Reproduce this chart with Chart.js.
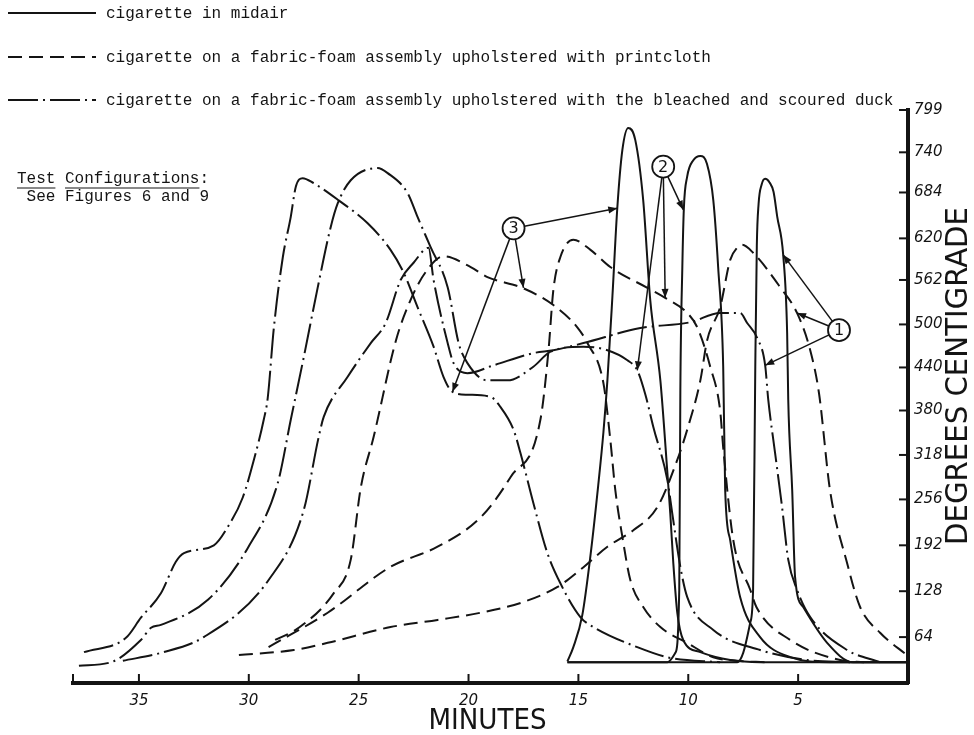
<!DOCTYPE html>
<html>
<head>
<meta charset="utf-8">
<script src="https://cdn.jsdelivr.net/npm/chart.js@4.4.1/dist/chart.umd.min.js"></script>
<style>
  html, body { margin: 0; padding: 0; background: #fff; }
</style>
</head>
<body>
<canvas id="myChart" width="974" height="735"></canvas>
<script>
// tick labels ----------------------------------------------------------
const xTicks = [35, 30, 25, 20, 15, 10, 5];
const yTicks = [64, 128, 192, 256, 318, 380, 440, 500, 562, 620, 684, 740, 799];

const legendLabels = [
  'cigarette in midair',
  'cigarette on a fabric-foam assembly upholstered with printcloth',
  'cigarette on a fabric-foam assembly upholstered with the bleached and scoured duck'
];

// curves, [minutes, degrees C] ------------------------------------------
// cigarette in midair (solid)
const midair1 = [[15.5, 29], [7.77, 29], [7.5, 42], [7.18, 84], [7.05, 130], [6.95, 441], [6.88, 610], [6.8, 668], [6.66, 695], [6.5, 703], [6.3, 698], [6.12, 685], [5.95, 650], [5.68, 597], [5.5, 488], [5.45, 395], [5.27, 269], [5.14, 148], [4.77, 106], [3.68, 56], [2.5, 29], [0, 29]];
const midair2 = [[15.5, 29], [10.95, 29], [10.59, 42], [10.41, 130], [10.36, 409], [10.27, 580], [10.2, 662], [10.05, 706], [9.77, 729], [9.45, 735], [9.15, 724], [8.86, 673], [8.64, 580], [8.41, 441], [8.32, 269], [8.09, 199], [7.64, 120], [6.73, 64], [5.36, 36], [3.55, 29], [0, 29]];
const midair3 = [[15.5, 30], [15.23, 50], [14.82, 95], [14.45, 178], [14.1, 275], [13.86, 350], [13.68, 422], [13.45, 540], [13.23, 662], [13.0, 743], [12.73, 774], [12.41, 757], [12.05, 673], [11.73, 534], [11.27, 422], [10.95, 293], [10.82, 237], [10.68, 167], [10.5, 98], [10.23, 60], [9.45, 43], [8.09, 32], [6.73, 29], [0, 29]];

// printcloth (dashed)
const print1 = [[30.45, 39], [27.95, 46], [26.41, 56], [23.55, 78], [21.41, 88], [19.45, 98], [17.5, 113], [15.95, 134], [14.91, 158], [13.68, 190], [12.5, 213], [11.41, 245], [10.5, 311], [10.05, 353], [9.45, 422], [9.14, 478], [8.55, 524], [8.09, 590], [7.77, 607], [7.55, 611], [7.05, 600], [5.82, 552], [5.05, 516], [4.45, 464], [4.05, 404], [3.55, 269], [2.77, 167], [2.18, 106], [1.27, 70], [0.05, 39]];
const print2 = [[29.1, 50], [26.41, 98], [23.55, 162], [21.41, 190], [19.45, 231], [18.09, 287], [16.73, 367], [16.36, 464], [16.14, 548], [15.82, 594], [15.23, 618], [14.45, 604], [13.55, 580], [11.86, 551], [11.05, 537], [10.05, 516], [9.59, 496], [9.0, 441], [8.55, 380], [8.4, 325], [7.95, 199], [7.18, 130], [6.9, 106], [5.36, 60], [3.09, 32], [2.0, 29]];
const print3 = [[28.8, 60], [27.73, 77], [26.14, 125], [25.36, 172], [24.9, 273], [24.32, 343], [23.3, 478], [22.64, 534], [21.95, 573], [21.14, 595], [19.9, 580], [19.14, 566], [17.55, 551], [16.14, 527], [15.05, 496], [14.59, 474], [13.86, 418], [13.55, 340], [13.32, 269], [13.0, 204], [12.64, 144], [12.05, 106], [11.27, 78], [10.05, 56], [8.86, 36], [7.77, 31], [6.5, 29]];

// bleached and scoured duck (dash-dot)
const duck1 = [[35.73, 31], [34.0, 42], [32.05, 64], [29.09, 144], [27.5, 241], [26.82, 343], [26.59, 371], [25.5, 427], [24.45, 474], [23.77, 502], [23.09, 562], [22.5, 586], [21.82, 607], [21.59, 562], [20.95, 474], [20.68, 446], [20.05, 432], [18.86, 443], [17.05, 460], [16.14, 464], [14.77, 474], [12.18, 495], [9.91, 503], [8.55, 516], [7.64, 516], [7.32, 502], [6.86, 481], [6.5, 443], [6.36, 395], [6.05, 321], [5.73, 245], [5.45, 172], [5.05, 130], [4.45, 92], [2.77, 46], [1.27, 29]];
const duck2 = [[37.73, 24], [36.27, 29], [34.91, 60], [34.45, 77], [34.0, 81], [31.86, 116], [30.05, 188], [28.68, 279], [28.09, 367], [27.5, 454], [26.86, 552], [26.27, 636], [25.95, 669], [25.36, 701], [24.14, 718], [23.68, 711], [22.77, 683], [22.32, 650], [21.73, 608], [20.95, 552], [20.45, 474], [20.05, 446], [19.14, 422], [18.23, 422], [17.05, 441], [16.27, 462], [14.77, 469], [13.68, 464], [12.77, 450], [12.32, 436], [11.95, 402], [11.59, 357], [10.95, 283], [10.73, 237], [10.36, 162], [10.05, 120], [8.86, 74], [6.73, 46], [4.59, 32], [2.64, 29]];
const duck3 = [[37.5, 43], [35.59, 63], [34.91, 91], [34.0, 125], [33.32, 169], [32.95, 181], [31.59, 192], [30.91, 220], [30.27, 259], [29.77, 311], [29.32, 367], [29.14, 397], [28.86, 495], [28.45, 594], [28.09, 650], [27.86, 692], [27.55, 704], [27.05, 697], [25.91, 673], [24.59, 641], [23.55, 604], [22.95, 572], [22.32, 524], [21.59, 469], [21.14, 427], [20.73, 406], [20.05, 402], [19.0, 399], [18.55, 385], [17.95, 353], [17.64, 321], [17.05, 251], [16.41, 181], [15.82, 139], [14.91, 92], [14.32, 78], [12.32, 50], [10.82, 35], [8.55, 29]];

// circled test numbers and where their arrows point (minutes, degrees)
const callouts = [
  { label: '1', at: [3.14, 492], tips: [[5.68, 597], [5.05, 516], [6.5, 443]] },
  { label: '2', at: [11.14, 720], tips: [[10.23, 660], [11.05, 537], [12.32, 436]] },
  { label: '3', at: [17.95, 634], tips: [[13.23, 662], [17.5, 551], [20.73, 406]] }
];

// styles -----------------------------------------------------------------
const ink = '#141414';
const solid = [];
const dashed = [14, 7];
const dashDot = [30, 5, 2, 5];
const legendDashes = [solid, dashed, dashDot];

const toXY = pts => pts.map(([m, d]) => ({ x: m, y: d }));

function curve(label, pts, dash) {
  return {
    label: label,
    data: toXY(pts),
    borderColor: ink,
    borderWidth: 2,
    borderDash: dash,
    pointRadius: 0,
    fill: false,
    cubicInterpolationMode: 'monotone'
  };
}

// draws the legend, note, inward ticks, callouts and axis titles
const paperPlugin = {
  id: 'paper',
  beforeDraw(chart) {
    const ctx = chart.ctx;
    ctx.save();
    ctx.fillStyle = '#fff';
    ctx.fillRect(0, 0, chart.width, chart.height);
    ctx.restore();
  },
  afterDraw(chart) {
    const { ctx, scales: { x, y }, chartArea } = chart;
    ctx.save();
    ctx.strokeStyle = ink;
    ctx.fillStyle = ink;

    // legend at the top
    ctx.font = '16px "Liberation Mono", "DejaVu Sans Mono", monospace';
    ctx.textBaseline = 'middle';
    const rowY = [13, 57, 100];
    legendLabels.forEach((txt, i) => {
      ctx.lineWidth = 2;
      ctx.setLineDash(legendDashes[i]);
      ctx.beginPath();
      ctx.moveTo(8, rowY[i]);
      ctx.lineTo(96, rowY[i]);
      ctx.stroke();
      ctx.setLineDash([]);
      ctx.fillText(txt, 106, rowY[i] + 1);
    });

    // test configurations note
    const cw = ctx.measureText('M').width;
    ctx.fillText('Test Configurations:', 17, 179);
    ctx.fillText(' See Figures 6 and 9', 17, 197);
    ctx.lineWidth = 1.2;
    ctx.beginPath();
    ctx.moveTo(17, 188); ctx.lineTo(17 + 4 * cw, 188);
    ctx.moveTo(17 + 5 * cw, 188); ctx.lineTo(17 + 19 * cw, 188);
    ctx.stroke();

    // tick marks pointing into the plot
    ctx.lineWidth = 2;
    xTicks.concat([x.max]).forEach(v => {
      const px = x.getPixelForValue(v);
      ctx.beginPath();
      ctx.moveTo(px, x.top);
      ctx.lineTo(px, x.top - 9);
      ctx.stroke();
    });
    yTicks.forEach(v => {
      const py = y.getPixelForValue(v);
      ctx.beginPath();
      ctx.moveTo(y.left, py);
      ctx.lineTo(y.left - 9, py);
      ctx.stroke();
    });

    // circled numbers with arrows
    const r = 11;
    callouts.forEach(c => {
      const cx = x.getPixelForValue(c.at[0]);
      const cy = y.getPixelForValue(c.at[1]);
      ctx.lineWidth = 1.8;
      ctx.beginPath();
      ctx.arc(cx, cy, r, 0, Math.PI * 2);
      ctx.stroke();
      ctx.font = '16px "DejaVu Sans", sans-serif';
      ctx.textAlign = 'center';
      ctx.fillText(c.label, cx, cy + 1);
      c.tips.forEach(t => {
        const tx = x.getPixelForValue(t[0]);
        const ty = y.getPixelForValue(t[1]);
        const dx = tx - cx, dy = ty - cy;
        const len = Math.hypot(dx, dy);
        const ux = dx / len, uy = dy / len;
        ctx.lineWidth = 1.5;
        ctx.beginPath();
        ctx.moveTo(cx + ux * r, cy + uy * r);
        ctx.lineTo(tx, ty);
        ctx.stroke();
        ctx.beginPath();
        ctx.moveTo(tx, ty);
        ctx.lineTo(tx - ux * 9 - uy * 3.5, ty - uy * 9 + ux * 3.5);
        ctx.lineTo(tx - ux * 9 + uy * 3.5, ty - uy * 9 - ux * 3.5);
        ctx.closePath();
        ctx.fill();
      });
    });

    // axis titles, hand lettered look
    ctx.font = '31px "Liberation Sans Narrow", "DejaVu Sans Condensed", sans-serif';
    ctx.textAlign = 'center';
    ctx.textBaseline = 'middle';
    const yTitle = 'DEGREES CENTIGRADE';
    ctx.save();
    ctx.translate(959, 376);
    ctx.rotate(-Math.PI / 2);
    ctx.scale(338 / ctx.measureText(yTitle).width, 1);
    ctx.fillText(yTitle, 0, 0);
    ctx.restore();

    ctx.font = '29px "Liberation Sans Narrow", "DejaVu Sans Condensed", sans-serif';
    const xTitle = 'MINUTES';
    ctx.save();
    ctx.translate((chartArea.left + chartArea.right) / 2 - 3, 721);
    ctx.scale(118 / ctx.measureText(xTitle).width, 1);
    ctx.fillText(xTitle, 0, 0);
    ctx.restore();

    ctx.restore();
  }
};

const tickFont = { family: '"DejaVu Sans", sans-serif', style: 'italic', size: 15 };

const ctx = document.getElementById('myChart').getContext('2d');
const myChart = new Chart(ctx, {
  type: 'line',
  data: {
    datasets: [
      curve(legendLabels[0], midair1, solid),
      curve(legendLabels[0], midair2, solid),
      curve(legendLabels[0], midair3, solid),
      curve(legendLabels[1], print1, dashed),
      curve(legendLabels[1], print2, dashed),
      curve(legendLabels[1], print3, dashed),
      curve(legendLabels[2], duck1, dashDot),
      curve(legendLabels[2], duck2, dashDot),
      curve(legendLabels[2], duck3, dashDot)
    ]
  },
  options: {
    responsive: false,
    animation: false,
    layout: { padding: { left: 73, top: 110, right: 0, bottom: 0 } },
    plugins: { legend: { display: false }, tooltip: { enabled: false } },
    scales: {
      x: {
        type: 'linear',
        reverse: true,
        min: 0,
        max: 38,
        position: 'bottom',
        afterBuildTicks: s => { s.ticks = xTicks.map(v => ({ value: v })); },
        afterFit: s => { s.height = 52; },
        grid: { display: false, drawTicks: false },
        border: { display: true, width: 4, color: ink },
        ticks: { padding: 9, color: ink, font: tickFont, autoSkip: false, maxRotation: 0 }
      },
      y: {
        type: 'linear',
        position: 'right',
        min: 0,
        max: 799,
        afterBuildTicks: s => { s.ticks = yTicks.map(v => ({ value: v })); },
        afterFit: s => { s.width = 66; },
        grid: { display: false, drawTicks: false },
        border: { display: true, width: 4, color: ink },
        ticks: { padding: 6, color: ink, font: tickFont, autoSkip: false, callback: v => String(v) }
      }
    }
  },
  plugins: [paperPlugin]
});
</script>
</body>
</html>
